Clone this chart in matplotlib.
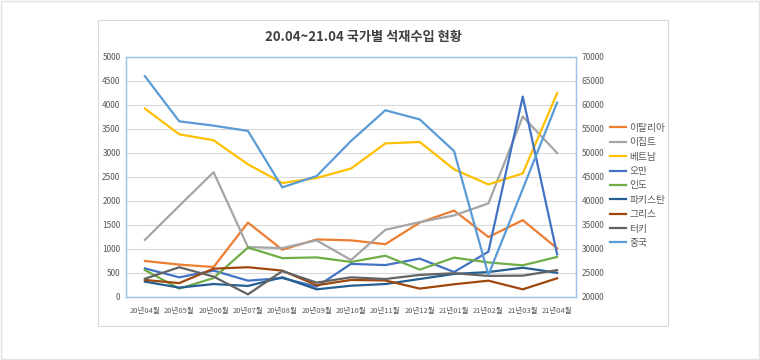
import matplotlib.pyplot as plt
from matplotlib.patches import Rectangle

plt.rcParams['font.family'] = ['Noto Sans CJK KR', 'DejaVu Sans']

months = ['20년04월', '20년05월', '20년06월', '20년07월', '20년08월', '20년09월', '20년10월',
          '20년11월', '20년12월', '21년01월', '21년02월', '21년03월', '21년04월']

# left axis series
italy = [750, 675, 625, 1550, 985, 1200, 1180, 1100, 1550, 1800, 1250, 1600, 1015]
egypt = [1190, 1900, 2600, 1040, 1020, 1180, 770, 1400, 1560, 1700, 1950, 3760, 3000]
vietnam = [3925, 3390, 3265, 2765, 2375, 2480, 2675, 3200, 3230, 2660, 2345, 2575, 4245]
oman = [595, 410, 550, 340, 395, 215, 690, 665, 800, 520, 945, 4175, 890]
india = [560, 175, 395, 1030, 810, 825, 730, 860, 570, 820, 720, 660, 835]
pakistan = [320, 195, 270, 230, 410, 160, 235, 270, 375, 480, 520, 610, 505]
greece = [355, 290, 590, 620, 550, 245, 355, 345, 175, 265, 340, 160, 390]
turkey = [380, 620, 425, 55, 540, 300, 410, 375, 460, 495, 440, 445, 560]
# right axis series
china = [66000, 56600, 55700, 54600, 42850, 45200, 52500, 58900, 57000, 50400, 24600, 42500, 60500]

left_series = [
    ('이탈리아', italy, '#ED7D31'),
    ('이집트', egypt, '#A5A5A5'),
    ('베트남', vietnam, '#FFC000'),
    ('오만', oman, '#4472C4'),
    ('인도', india, '#70AD47'),
    ('파키스탄', pakistan, '#255E91'),
    ('그리스', greece, '#9E480E'),
    ('터키', turkey, '#636363'),
]

fig = plt.figure(figsize=(7.6, 3.6), dpi=100)
fig.patches.append(Rectangle((0.0015, 0.002), 0.997, 0.995, transform=fig.transFigure,
                             fill=False, edgecolor='#E3E3E3', lw=1))
fig.patches.append(Rectangle((98 / 760, 1 - 326 / 360), 570 / 760, 306 / 360,
                             transform=fig.transFigure, fill=False, edgecolor='#D9D9D9', lw=0.8))

ax = fig.add_axes([126 / 760, 1 - 297 / 360, 450 / 760, 240 / 360])
ax2 = ax.twinx()

x = list(range(len(months)))
handles = []
for name, vals, col in left_series:
    h, = ax.plot(x, vals, color=col, lw=1.6, label=name)
    handles.append(h)
h, = ax2.plot(x, china, color='#5B9BD5', lw=1.6, label='중국')
handles.append(h)

ax.set_xlim(-0.55, 12.55)
ax.set_ylim(0, 5000)
ax.set_yticks(range(0, 5001, 500))
ax2.set_ylim(20000, 70000)
ax2.set_yticks(range(20000, 70001, 5000))
ax.set_xticks(x)
ax.set_xticklabels(months)

ax.grid(axis='y', color='#D9D9D9', lw=0.8)
ax.set_axisbelow(True)
for a in (ax, ax2):
    for s in a.spines.values():
        s.set_color('#9DC3E6')
        s.set_linewidth(0.9)
    a.tick_params(length=0, labelsize=6, colors='#595959', pad=4)
ax.spines['bottom'].set_color('#D9D9D9')
ax.tick_params(axis='x', pad=7, labelsize=5.4)

fig.text(363 / 760, 1 - 37 / 360, '20.04~21.04 국가별 석재수입 현황', ha='center', va='center',
         fontsize=9.5, color='#404040', fontweight='bold')

fig.legend(handles=handles, loc='upper left', bbox_to_anchor=(606 / 760, 1 - 119 / 360),
           frameon=False, fontsize=7, handlelength=1.7, handletextpad=0.3,
           labelspacing=0.45, labelcolor='#595959', borderaxespad=0)

fig.savefig('out.png', dpi=100)
